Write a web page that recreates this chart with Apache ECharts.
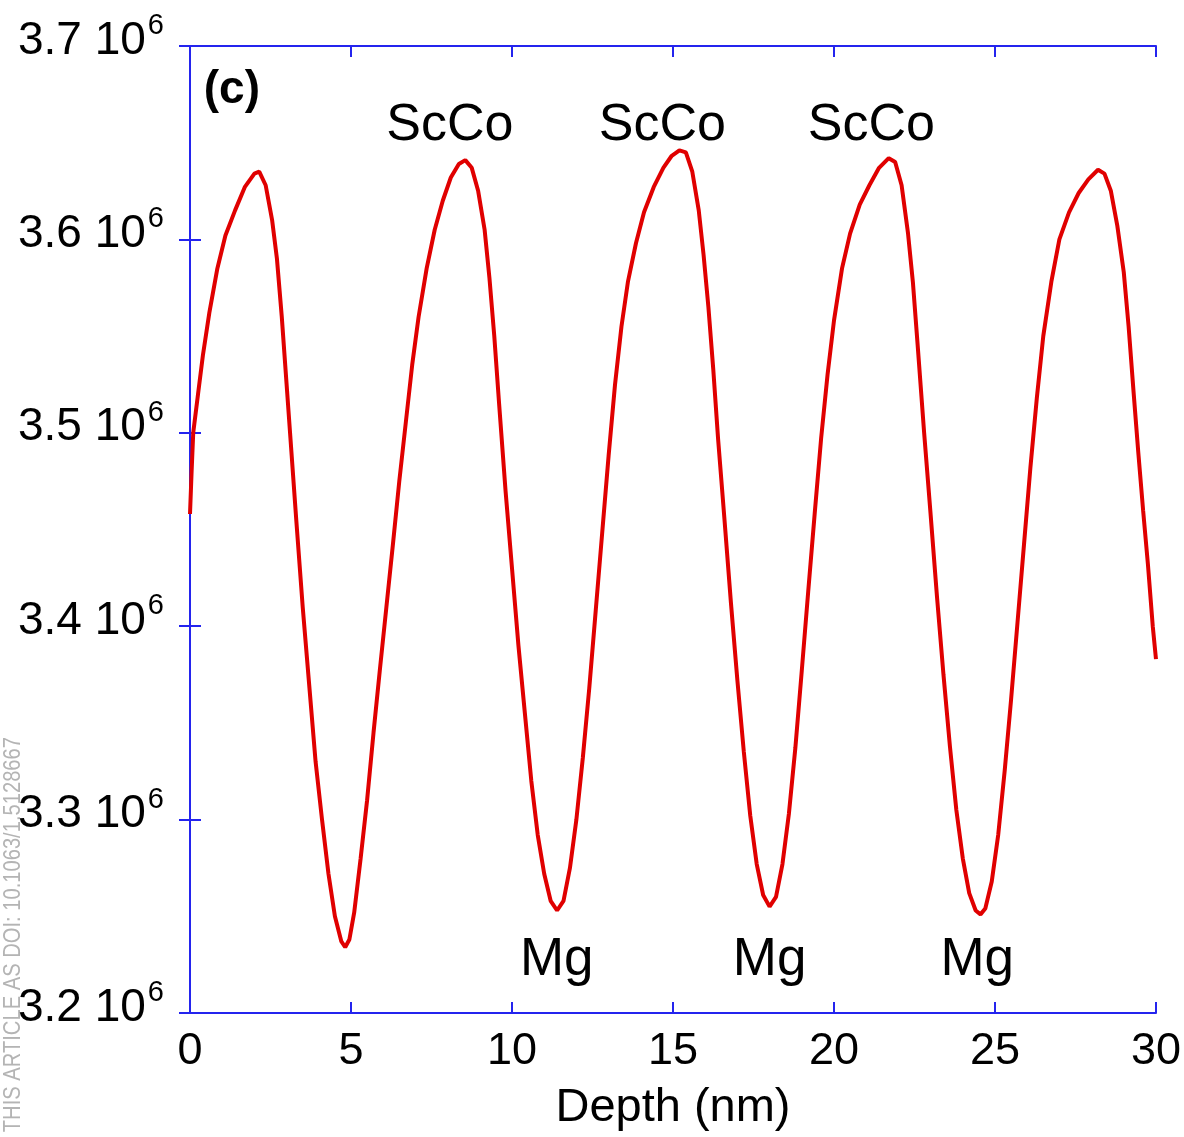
<!DOCTYPE html>
<html>
<head>
<meta charset="utf-8">
<script src="https://cdn.jsdelivr.net/npm/echarts@6/dist/echarts.min.js"></script>
<style>
html,body{margin:0;padding:0;background:#fff;}
#chart{width:1184px;height:1137px;}
</style>
</head>
<body>
<div id="chart"></div>
<script>
// Depth (nm)
const depth = [0.00,0.05,0.10,0.25,0.40,0.60,0.85,1.10,1.40,1.70,2.00,2.15,2.35,2.55,2.70,2.85,3.00,3.15,3.30,3.50,3.70,3.90,4.10,4.30,4.50,4.70,4.82,4.95,5.10,5.30,5.50,5.70,5.90,6.10,6.30,6.50,6.70,6.90,7.10,7.35,7.60,7.85,8.10,8.35,8.55,8.75,8.95,9.15,9.30,9.45,9.60,9.80,10.00,10.20,10.40,10.60,10.80,11.00,11.20,11.40,11.60,11.80,12.00,12.20,12.40,12.60,12.80,13.00,13.20,13.40,13.60,13.85,14.10,14.40,14.70,14.95,15.20,15.40,15.60,15.80,15.95,16.10,16.25,16.40,16.60,16.80,17.00,17.20,17.40,17.60,17.80,18.00,18.20,18.40,18.60,18.80,19.00,19.20,19.40,19.60,19.80,20.00,20.25,20.50,20.80,21.10,21.40,21.70,21.90,22.10,22.30,22.45,22.60,22.80,23.00,23.20,23.40,23.60,23.80,24.00,24.20,24.40,24.55,24.70,24.90,25.10,25.30,25.50,25.70,25.90,26.10,26.30,26.50,26.75,27.00,27.30,27.60,27.90,28.20,28.40,28.60,28.80,29.00,29.15,29.30,29.45,29.60,29.75,29.90,30.00];
// Intensity (units of 10^6)
const intensity = [3.458,3.480,3.500,3.520,3.540,3.562,3.585,3.602,3.615,3.627,3.634,3.635,3.628,3.610,3.590,3.560,3.525,3.490,3.455,3.410,3.370,3.330,3.300,3.272,3.250,3.237,3.234,3.238,3.252,3.280,3.310,3.345,3.378,3.410,3.442,3.475,3.505,3.535,3.560,3.585,3.605,3.620,3.632,3.639,3.641,3.637,3.625,3.605,3.580,3.550,3.515,3.470,3.430,3.390,3.355,3.320,3.292,3.272,3.258,3.253,3.258,3.275,3.300,3.332,3.368,3.408,3.448,3.488,3.525,3.555,3.578,3.598,3.614,3.627,3.637,3.643,3.646,3.645,3.635,3.615,3.592,3.565,3.533,3.497,3.455,3.412,3.372,3.335,3.302,3.277,3.261,3.255,3.260,3.277,3.303,3.337,3.377,3.418,3.458,3.497,3.530,3.558,3.585,3.603,3.618,3.628,3.637,3.642,3.640,3.628,3.603,3.578,3.545,3.500,3.458,3.415,3.375,3.338,3.305,3.280,3.262,3.253,3.251,3.254,3.268,3.292,3.325,3.362,3.402,3.442,3.482,3.518,3.550,3.578,3.600,3.614,3.624,3.631,3.636,3.634,3.625,3.607,3.583,3.555,3.522,3.490,3.460,3.432,3.400,3.383];
const xTicks = [0,5,10,15,20,25,30];
const yTicks = [3.2,3.3,3.4,3.5,3.6,3.7];
const peakLabels = [{x:8.07,y:3.659,text:'ScCo'},{x:14.67,y:3.659,text:'ScCo'},{x:21.16,y:3.659,text:'ScCo'}];
const dipLabels = [{x:11.39,y:3.2273,text:'Mg'},{x:18.0,y:3.2273,text:'Mg'},{x:24.45,y:3.2273,text:'Mg'}];
const panelLabel = {x:1.3,y:3.677,text:'(c)'};
const watermark = 'PLEASE CITE THIS ARTICLE AS DOI: 10.1063/1.5128667';

const FONT = '"Liberation Sans", Arial, sans-serif';
const AX = '#2424ee';
const data = depth.map((d,i)=>[d, intensity[i]*1e6]);

const chart = echarts.init(document.getElementById('chart'), null, {renderer:'canvas'});
const axisCommon = {
  axisLine:{show:true, lineStyle:{color:AX, width:2}},
  axisTick:{show:true, inside:true, length:11, lineStyle:{color:AX, width:2}},
  splitLine:{show:false}
};
const yMin = yTicks[0]*1e6, yMax = yTicks[yTicks.length-1]*1e6, yInt = 1e5;
chart.setOption({
  animation:false,
  backgroundColor:'#fff',
  grid:{left:190, top:46, right:27, bottom:124, containLabel:false},
  xAxis:[
    Object.assign({type:'value', min:xTicks[0], max:xTicks[xTicks.length-1], interval:5, position:'bottom',
      name:'Depth (nm)', nameLocation:'middle', nameGap:72,
      nameTextStyle:{fontFamily:FONT, fontSize:47, color:'#000'},
      axisLabel:{fontFamily:FONT, fontSize:45, color:'#000', margin:16}}, axisCommon),
    Object.assign({type:'value', min:0, max:30, interval:5, position:'top', axisLabel:{show:false}}, axisCommon)
  ],
  yAxis:[
    Object.assign({type:'value', min:yMin, max:yMax, interval:yInt, position:'left',
      axisLabel:{margin:26, formatter:function(v){return '{a|'+(v/1e6).toFixed(1)+' 10}{s|6}';},
        rich:{a:{fontFamily:FONT, fontSize:46, color:'#000', padding:[0,0,10,0]}, s:{fontFamily:FONT, fontSize:29, color:'#000', verticalAlign:'bottom', padding:[0,0,40,2]}}}}, axisCommon),
    Object.assign({type:'value', min:yMin, max:yMax, interval:yInt, position:'right', axisLabel:{show:false}}, axisCommon)
  ],
  series:[
    {type:'line', data:data, showSymbol:false, symbol:'none', smooth:false,
     lineStyle:{color:'#e00000', width:4}, z:3}
  ]
});

function textAt(p, size, weight){
  const px = chart.convertToPixel({xAxisIndex:0, yAxisIndex:0}, [p.x, p.y*1e6]);
  return {type:'text', x:px[0], y:px[1], style:{text:p.text, fontFamily:FONT, fontSize:size, fontWeight:weight||'normal', fill:'#000', align:'center', verticalAlign:'middle'}};
}
const g = [];
peakLabels.forEach(p=>g.push(textAt(p, 52)));
dipLabels.forEach(p=>g.push(textAt(p, 53)));
g.push(textAt(panelLabel, 46, 'bold'));
g.push({type:'text', x:1, y:737, rotation:Math.PI/2, scaleX:0.84,
  style:{text:watermark, fontFamily:FONT, fontSize:24, fill:'#b4b4b4', align:'right', verticalAlign:'top'}});
chart.setOption({graphic:g});
</script>
</body>
</html>
